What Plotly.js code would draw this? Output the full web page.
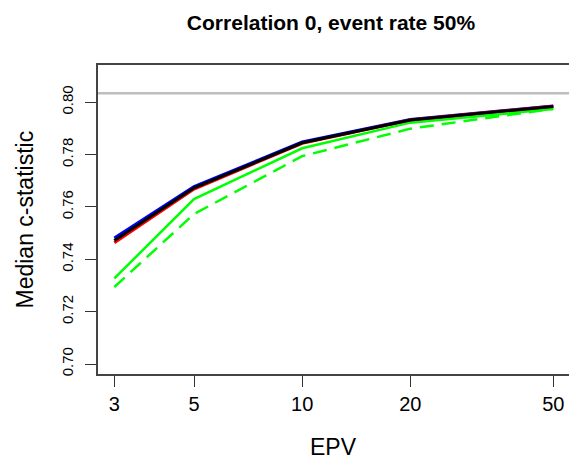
<!DOCTYPE html>
<html>
<head>
<meta charset="utf-8">
<script src="https://cdn.plot.ly/plotly-3.0.1.min.js"></script>
<style>html,body{margin:0;padding:0;background:#fff;}#chart{width:569px;height:459px;}</style>
</head>
<body>
<div id="chart"></div>
<script>
const epv = [3, 5, 10, 20, 50];
const blueVals = [0.7481, 0.7678, 0.7848, 0.7934, 0.7986];
const redVals = [0.7463, 0.7668, 0.7843, 0.7932, 0.7985];
const blackVals = [0.7472, 0.7673, 0.7845, 0.7932, 0.7984];
const greenVals = [0.7327, 0.7630, 0.7824, 0.7922, 0.7974];
const greenDashVals = [0.7294, 0.7573, 0.7794, 0.7899, 0.7975];
const referenceLine = 0.8034;
const xTicks = [3, 5, 10, 20, 50];
const yTicks = [0.70, 0.72, 0.74, 0.76, 0.78, 0.80];
const yTickText = ["0.70", "0.72", "0.74", "0.76", "0.78", "0.80"];

const font = "Liberation Sans, Arial, sans-serif";

const traces = [
  {x: epv, y: greenDashVals, mode: "lines", line: {color: "#00FF00", width: 2.5, dash: "14px,8px"}, hoverinfo: "skip"},
  {x: epv, y: greenVals, mode: "lines", line: {color: "#00FF00", width: 2.5}, hoverinfo: "skip"},
  {x: epv, y: blueVals, mode: "lines", line: {color: "#0000FF", width: 3}, hoverinfo: "skip"},
  {x: epv, y: redVals, mode: "lines", line: {color: "#FF0000", width: 3}, hoverinfo: "skip"},
  {x: epv, y: blackVals, mode: "lines", line: {color: "#000000", width: 3}, hoverinfo: "skip"}
];

const layout = {
  width: 569, height: 459,
  margin: {l: 97, r: 0, t: 64, b: 84},
  paper_bgcolor: "#fff", plot_bgcolor: "#fff",
  showlegend: false,
  title: {text: "<b>Correlation 0, event rate 50%</b>", font: {family: font, size: 21, color: "#000"},
          x: 331/569, xref: "container", xanchor: "center", y: 1 - 23/459, yref: "container", yanchor: "middle"},
  xaxis: {type: "log", range: [0.4289, 1.7426], tickvals: xTicks, ticktext: xTicks.map(String),
          ticks: "outside", ticklen: 11, tickwidth: 1, tickcolor: "#333", showgrid: false, zeroline: false,
          showline: false, tickfont: {family: font, size: 20, color: "#000"}},
  yaxis: {range: [0.6958, 0.8146], tickvals: yTicks, ticktext: yTickText, tickangle: -90,
          ticks: "outside", ticklen: 11, tickwidth: 1, tickcolor: "#333", showgrid: false, zeroline: false,
          showline: false, ticklabelstandoff: 6, tickfont: {family: font, size: 15, color: "#000"}},
  shapes: [
    {type: "line", xref: "paper", yref: "y", x0: 0, x1: 1, y0: referenceLine, y1: referenceLine,
     line: {color: "#BEBEBE", width: 2.5}, layer: "below"},
    {type: "rect", xref: "paper", yref: "paper", x0: 0, x1: 1.02, y0: 0, y1: 1,
     line: {color: "#444", width: 2}}
  ],
  annotations: [
    {text: "EPV", xref: "paper", yref: "paper", x: (333-97)/472, y: 0, yshift: -(447-375), showarrow: false,
     xanchor: "center", yanchor: "middle", font: {family: font, size: 23, color: "#000"}},
    {text: "Median c-statistic", xref: "paper", yref: "paper", x: 0, xshift: -(97-24), y: 0.5, textangle: -90, showarrow: false,
     xanchor: "center", yanchor: "middle", font: {family: font, size: 23, color: "#000"}}
  ]
};

Plotly.newPlot("chart", traces, layout, {staticPlot: true, displayModeBar: false});
</script>
</body>
</html>
